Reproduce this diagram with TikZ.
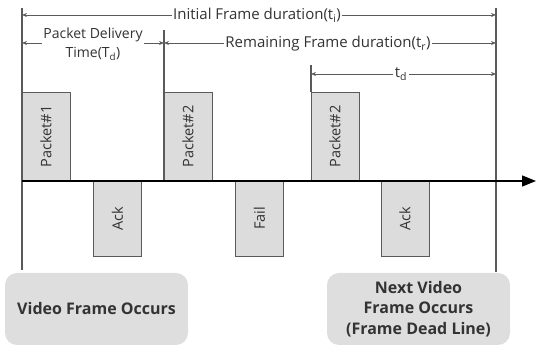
\documentclass[tikz,border=0pt]{standalone}
\usepackage{fontspec}
\setmainfont{Open Sans}
\usetikzlibrary{arrows.meta}
\definecolor{ln}{HTML}{5A5A5A}
\definecolor{bx}{HTML}{DCDCDC}
\definecolor{rb}{HTML}{DEDEDE}
\definecolor{tx}{HTML}{333333}
\begin{document}
\begin{tikzpicture}[x=1pt,y=-1pt,
  vline/.style={draw=ln,line width=1.4pt},
  dim/.style={draw=ln,line width=0.9pt,{Stealth[length=5pt,width=4pt]}-{Stealth[length=5pt,width=4pt]}},
  lbl/.style={fill=white,inner sep=1.5pt,text=tx,font=\fontsize{15}{17}\selectfont},
  pkt/.style={draw=ln,fill=bx,line width=0.9pt,rotate=90,minimum height=48pt,inner sep=0pt,text=tx,font=\fontsize{14.5}{17}\selectfont},
  evt/.style={fill=rb,rounded corners=12pt,minimum width=183pt,minimum height=72pt,align=center,text=tx,font=\bfseries\fontsize{16}{20.5}\selectfont}]
\useasboundingbox (0,0) rectangle (536,347);
% reference coordinates
\coordinate (L0) at (22,8);   \coordinate (L1) at (22,270);
\coordinate (R0) at (496,8);  \coordinate (R1) at (496,272);
\coordinate (M0) at (164,30); \coordinate (M1) at (164,181);
\coordinate (T0) at (311,65); \coordinate (T1) at (311,92);
\coordinate (A0) at (22,181); \coordinate (A1) at (536,181);
% packet boxes
\node[pkt,minimum width=89pt] (p1) at (46,136.5) {Packet\#1};
\node[pkt,minimum width=89pt] (p2) at (188,136.5) {Packet\#2};
\node[pkt,minimum width=89pt] (p3) at (335,136.5) {Packet\#2};
\node[pkt,minimum width=75pt] (a1) at (117.5,218.5) {Ack};
\node[pkt,minimum width=75pt] (f1) at (259.5,218.5) {Fail};
\node[pkt,minimum width=75pt] (a2) at (405,218.5) {Ack};
% vertical lines
\draw[vline] (L0) -- (L1);
\draw[vline] (R0) -- (R1);
\draw[vline] (M0) -- (M1);
\draw[vline] (T0) -- (T1);
% axis
\draw[black,line width=1.4pt,-{Triangle[length=14pt,width=11pt]}] (A0) -- (A1);
% dimension arrows
\coordinate (d1l) at (22,15);  \coordinate (d1r) at (496,15);
\coordinate (d2l) at (22,43);  \coordinate (d2m) at (164,43); \coordinate (d2r) at (496,43);
\coordinate (d3l) at (311,74); \coordinate (d3r) at (496,74);
\draw[dim] (d1l) -- (d1r);
\draw[dim] (d2l) -- (d2m);
\draw[dim] (d2m) -- (d2r);
\draw[dim] (d3l) -- (d3r);
\node[lbl] (ti) at (257,15) {Initial Frame duration(t\textsubscript{i})};
\node[lbl,align=center,font=\fontsize{14}{19}\selectfont] (td) at (93,44) {Packet Delivery\\Time(T\textsubscript{d})};
\node[lbl] (tr) at (328,44) {Remaining Frame duration(t\textsubscript{r})};
\node[lbl] (tdd) at (401,74) {t\textsubscript{d}};
% events
\node[evt] (e1) at (96.5,309) {Video Frame Occurs};
\node[evt] (e2) at (418.5,309) {Next Video\\Frame Occurs\\(Frame Dead Line)};
\end{tikzpicture}
\end{document}
